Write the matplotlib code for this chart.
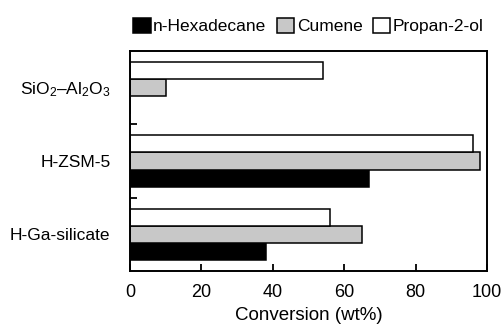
import matplotlib
matplotlib.use("Agg")
import matplotlib.pyplot as plt
import numpy as np

plt.rcParams['font.family'] = ['Liberation Sans', 'DejaVu Sans']
plt.rcParams['mathtext.fontset'] = 'custom'
plt.rcParams['mathtext.rm'] = 'Liberation Sans'
plt.rcParams['mathtext.it'] = 'Liberation Sans:italic'

categories = ['H-Ga-silicate', 'H-ZSM-5', 'SiO$_2$\u2013Al$_2$O$_3$']
series_names = ['n-Hexadecane', 'Cumene', 'Propan-2-ol']
hexadecane = [38, 67, 0]
cumene = [65, 98, 10]
propanol = [56, 96, 54]
colors = ['black', '#c8c8c8', 'white']
xticks = [0, 20, 40, 60, 80, 100]

fig = plt.figure(figsize=(5.03, 3.25), dpi=100)
ax = fig.add_axes([0.2584, 0.166, 0.7098, 0.677])

y = np.arange(len(categories))
h = 0.235
for i, (vals, c, name) in enumerate(zip([hexadecane, cumene, propanol], colors, series_names)):
    ax.barh(y + (i - 1) * h, vals, height=h, color=c, edgecolor='black', linewidth=1.1, label=name)

ax.set_xlim(0, 100)
ax.set_ylim(-0.5, 2.5)
ax.set_xticks(xticks)
ax.set_xticklabels([str(t) for t in xticks])
ax.set_yticks(y)
ax.set_yticklabels(categories)
ax.set_yticks([0.5, 1.5], minor=True)
ax.tick_params(axis='y', which='major', length=0, pad=14, labelsize=12.5)
ax.tick_params(axis='y', which='minor', direction='in', length=5, width=1.3)
ax.tick_params(axis='x', direction='in', length=5, width=1.3, labelsize=13, pad=9)
for s in ax.spines.values():
    s.set_linewidth(1.4)
ax.set_xlabel('Conversion (wt%)', fontsize=13.5, labelpad=5)

ax.legend(loc='lower center', bbox_to_anchor=(0.5, 1.02), ncol=3, frameon=False,
          handlelength=1.0, handleheight=1.0, handletextpad=0.15, columnspacing=0.6,
          fontsize=12.5, borderaxespad=0.3)

fig.savefig('out.png', dpi=100)
